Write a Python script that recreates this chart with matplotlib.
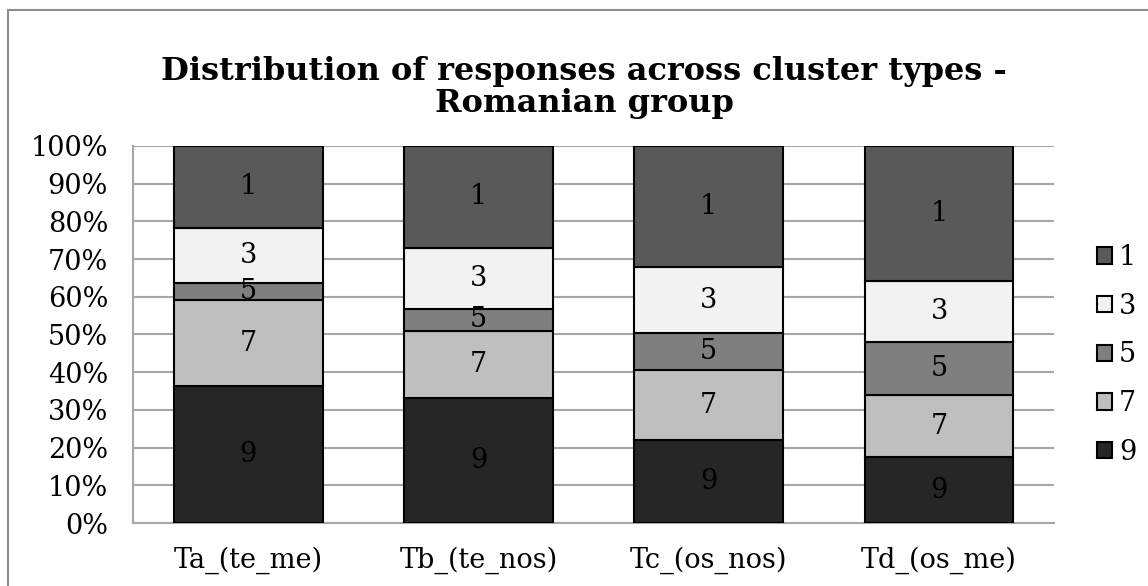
import matplotlib.pyplot as plt
from matplotlib.patches import Rectangle
import numpy as np

# Data (percent of responses per cluster type)
categories = ['Ta_(te_me)', 'Tb_(te_nos)', 'Tc_(os_nos)', 'Td_(os_me)']
series_names = ['9', '7', '5', '3', '1']      # bottom to top
vals_9 = [36.2, 33.1, 21.9, 17.4]
vals_7 = [22.9, 17.9, 18.6, 16.6]
vals_5 = [4.5, 5.8, 9.8, 13.9]
vals_3 = [14.7, 16.2, 17.5, 16.2]
vals_1 = [21.7, 27.0, 32.2, 35.9]

COLORS = {'9': '#262626', '7': '#bfbfbf', '5': '#7f7f7f', '3': '#f2f2f2', '1': '#595959'}
GRID_COLOR = '#a6a6a6'
FS = 19.5

plt.rcParams['font.family'] = ['DejaVu Serif']

fig = plt.figure(figsize=(11.48, 5.86), dpi=100)
ax = fig.add_axes([0.1159, 0.1075, 0.8024, 0.6435])

# outer chart border
fig.patches.append(Rectangle((0.007, -0.01), 1.0, 0.993, transform=fig.transFigure,
                             fill=False, edgecolor='#8c8c8c', linewidth=1.5))

x = np.arange(len(categories))
bottom = np.zeros(len(categories))
all_vals = {'9': vals_9, '7': vals_7, '5': vals_5, '3': vals_3, '1': vals_1}
handles = {}
for name in series_names:
    v = np.array(all_vals[name])
    bars = ax.bar(x, v, 0.646, bottom=bottom, color=COLORS[name], edgecolor='black',
                  linewidth=1.5, zorder=3, label=name)
    handles[name] = bars
    for xi, b, h in zip(x, bottom, v):
        ax.text(xi, b + h / 2, name, ha='center', va='center', fontsize=FS, zorder=4)
    bottom += v

ax.set_xlim(-0.5, 3.5)
ax.set_ylim(0, 100)
ax.set_yticks(np.arange(0, 101, 10))
ax.set_yticklabels(['%d%%' % t for t in range(0, 101, 10)], fontsize=FS)
ax.set_xticks(x)
ax.set_xticklabels(categories, fontsize=FS)
ax.tick_params(axis='x', length=0, pad=17)
ax.tick_params(axis='y', length=0, pad=18)
ax.yaxis.grid(True, color=GRID_COLOR, linewidth=1.5, zorder=0)
for s in ['top', 'right']:
    ax.spines[s].set_visible(False)
for s in ['left', 'bottom']:
    ax.spines[s].set_color(GRID_COLOR)
    ax.spines[s].set_linewidth(1.5)

# two-line title
fig.text(0.5087, 0.878, 'Distribution of responses across cluster types -',
         ha='center', va='center', fontsize=23, fontweight='bold')
fig.text(0.5087, 0.824, 'Romanian group',
         ha='center', va='center', fontsize=23, fontweight='bold')

leg_order = ['1', '3', '5', '7', '9']
ax.legend([handles[n] for n in leg_order], leg_order, loc='center left',
          bbox_to_anchor=(1.0467, 0.446), frameon=False, fontsize=FS,
          borderaxespad=0, borderpad=0,
          handlelength=0.55, handleheight=0.55, handletextpad=0.25, labelspacing=0.8)

fig.savefig('out.png', dpi=100)
